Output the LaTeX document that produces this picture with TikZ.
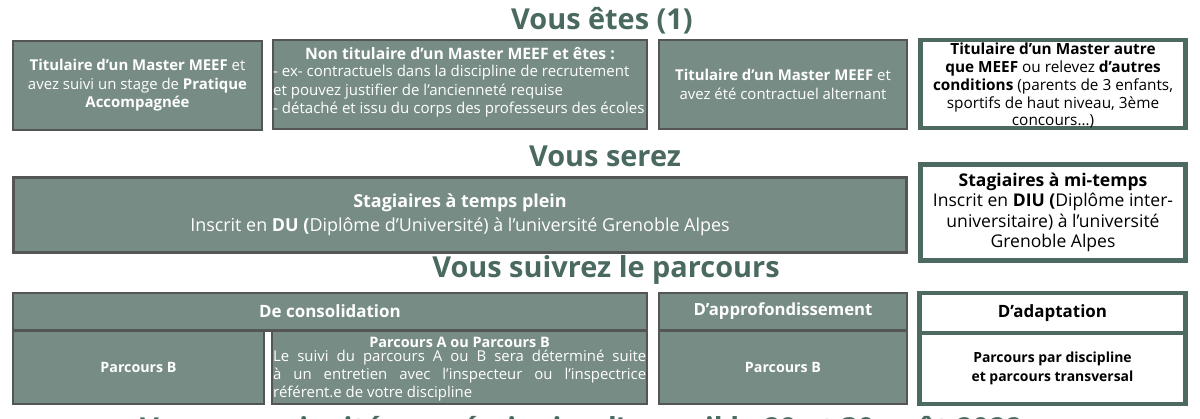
\documentclass[tikz,border=0pt]{standalone}
\usepackage{fontspec}
\setmainfont{Open Sans}
\definecolor{boxfill}{HTML}{788C86}
\definecolor{boxline}{HTML}{545656}
\definecolor{greenline}{HTML}{4C6A61}
\definecolor{titlecol}{HTML}{4A6A61}
\tikzset{
  gbox/.style={draw=boxline, line width=2bp, fill=boxfill, text=white, inner sep=0pt, align=center},
  wbox/.style={draw=greenline, line width=4.5bp, fill=white, text=black, inner sep=0pt, align=center},
  ttl/.style={text=titlecol, font=\fontsize{29}{34}\selectfont\bfseries, inner sep=0pt, anchor=base},
  txt/.style={inner sep=0pt, align=center},
}
\begin{document}
\begin{tikzpicture}[x=1bp,y=-1bp]
\path[use as bounding box, clip] (0,0) rectangle (1200,418);
\fill[white] (0,0) rectangle (1200,418);

% Titles
\node[ttl] (t1) at (602,29) {Vous êtes (1)};
\node[ttl] (t2) at (605,166) {Vous serez};
\node[ttl] (t3) at (606,277) {Vous suivrez le parcours};
\node[ttl, anchor=base west] (t4) at (140,438) {Vous serez invités en séminaire d’accueil le 29 et 30 août 2022};

% Row 1
\node[gbox, minimum width=249bp, minimum height=89bp, font=\fontsize{15}{18.5}\selectfont] (b1) at (137.5,85.5)
  {\textbf{Titulaire d’un Master MEEF} et\\avez suivi un stage de \textbf{Pratique}\\\textbf{Accompagnée}};
\node[gbox, minimum width=374bp, minimum height=89bp] (b2) at (460,84.5) {};
\node[txt, text=white, font=\fontsize{15.8}{18}\selectfont\bfseries, anchor=base] (b2h) at (460,59) {Non titulaire d’un Master MEEF et êtes :};
\node[txt, text=white, align=left, anchor=north west, font=\fontsize{15.1}{18.5}\selectfont] (b2t) at (273,65)
  {- ex- contractuels dans la discipline de recrutement\\et pouvez justifier de l’ancienneté requise\\- détaché et issu du corps des professeurs des écoles};
\node[gbox, minimum width=248bp, minimum height=89bp, font=\fontsize{15}{18.5}\selectfont] (b3) at (783,84.5)
  {\textbf{Titulaire d’un Master MEEF} et\\avez été contractuel alternant};
\node[wbox, minimum width=265bp, minimum height=88bp] (b4) at (1053,84) {};
\node[txt, font=\fontsize{15.4}{18}\selectfont] (b4t) at (1053,85.5)
  {\textbf{Titulaire d’un Master autre}\\\textbf{que MEEF} ou relevez \textbf{d’autres}\\\textbf{conditions} (parents de 3 enfants,\\sportifs de haut niveau, 3ème\\concours…)};

% Row 2
\node[gbox, line width=3bp, minimum width=893bp, minimum height=75bp, font=\fontsize{18}{24}\selectfont] (c1) at (460,214.5)
  {\textbf{Stagiaires à temps plein}\\Inscrit en \textbf{DU (}Diplôme d’Université) à l’université Grenoble Alpes};
\node[wbox, minimum width=265bp, minimum height=96bp, font=\fontsize{17.6}{20.5}\selectfont] (c2) at (1053,212.5)
  {\textbf{Stagiaires à mi-temps}\\Inscrit en \textbf{DIU (}Diplôme inter-\\universitaire) à l’université\\Grenoble Alpes};

% Row 3 : consolidation
\node[gbox, minimum width=634bp, minimum height=37bp, font=\fontsize{17}{20}\selectfont\bfseries] (d1) at (330,311)
  {De consolidation};
\node[gbox, minimum width=251bp, minimum height=73bp, font=\fontsize{14.3}{17}\selectfont\bfseries] (d2) at (138.5,367.5)
  {Parcours B};
\node[gbox, minimum width=375bp, minimum height=73bp] (d3) at (459.5,367.5) {};
\node[txt, text=white, font=\fontsize{14.5}{17}\selectfont\bfseries, anchor=base] (d3h) at (459.5,347) {Parcours A ou Parcours B};
\node[txt, text=white, anchor=north west, align=justify, text width=373bp, font=\fontsize{15}{18}\selectfont] (d3t) at (273,350)
  {\hyphenpenalty=10000 Le suivi du parcours A ou B sera déterminé suite\linebreak à un entretien avec l’inspecteur ou l’inspectrice\linebreak référent.e de votre discipline};
\draw[boxline, line width=3bp] (d1.south west) -- (d1.south east);

% Row 3 : approfondissement
\node[gbox, minimum width=248bp, minimum height=37bp, font=\fontsize{16.8}{20}\selectfont\bfseries] (e1) at (783,311)
  {D’approfondissement};
\node[gbox, minimum width=248bp, minimum height=73bp, font=\fontsize{14.3}{17}\selectfont\bfseries] (e2) at (783,367.5)
  {Parcours B};
\draw[boxline, line width=3bp] (e1.south west) -- (e1.south east);

% Row 3 : adaptation
\node[wbox, minimum width=266bp, minimum height=40bp, font=\fontsize{17}{20}\selectfont\bfseries] (f1) at (1052.5,313)
  {D’adaptation};
\node[wbox, minimum width=266bp, minimum height=71bp, font=\fontsize{14}{18.5}\selectfont\bfseries] (f2) at (1052.5,368.5)
  {Parcours par discipline\\et parcours transversal};
\end{tikzpicture}
\end{document}
